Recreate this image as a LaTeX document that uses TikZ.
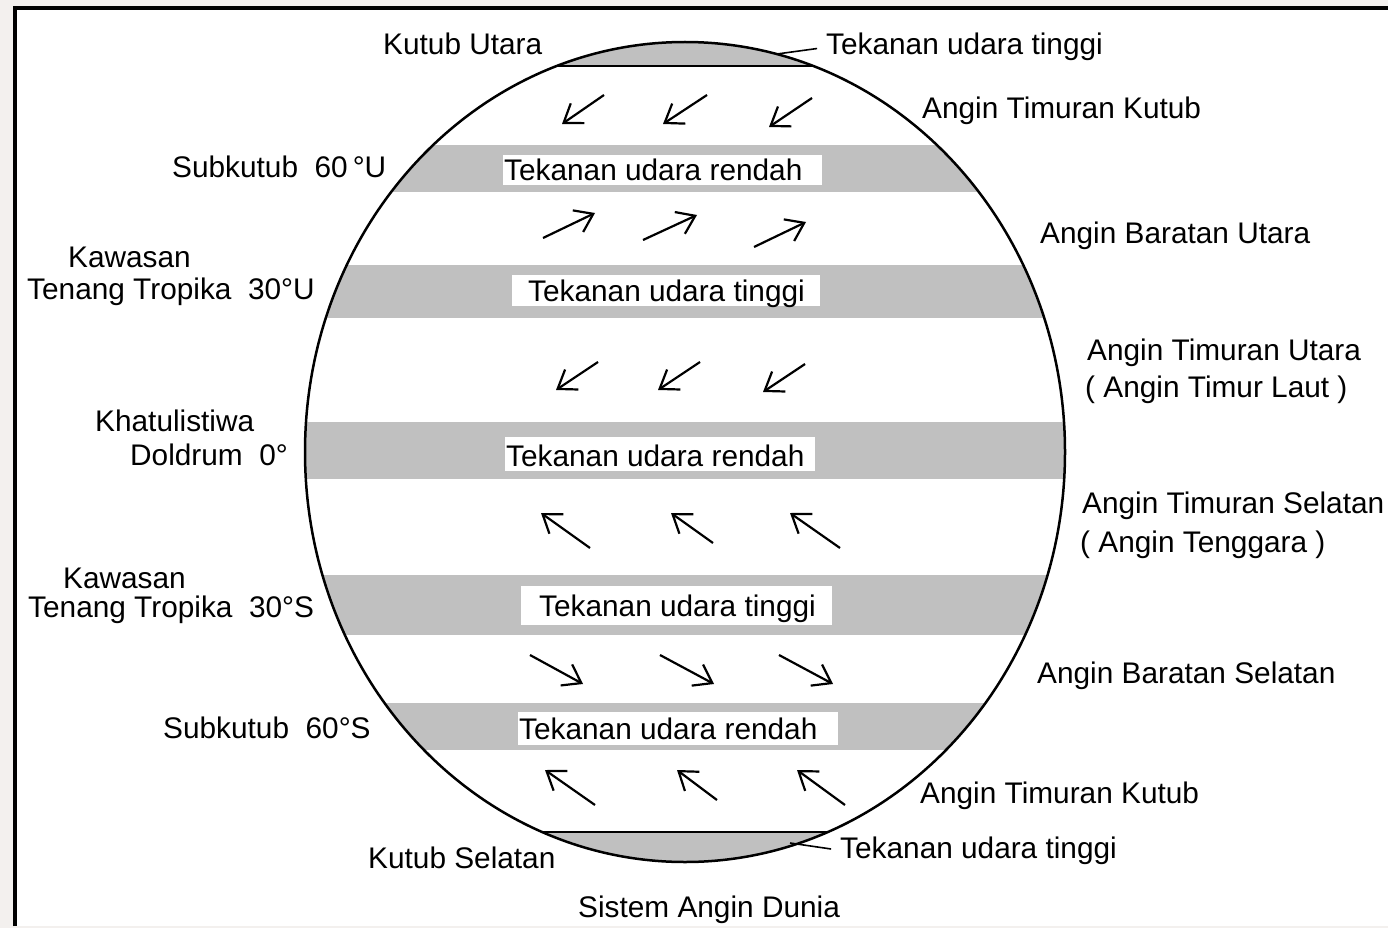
\documentclass[tikz,border=0pt]{standalone}
\usepackage{fontspec}
\setmainfont{Liberation Sans}
\usetikzlibrary{arrows.meta}
\definecolor{bandgray}{HTML}{C0C0C0}
\definecolor{outbg}{HTML}{F3F0EE}
\begin{document}
\begin{tikzpicture}[x=1pt,y=-1pt,
  lbl/.style={anchor=base west, inner sep=0pt, font=\fontsize{29.8}{32}\selectfont},
  wind/.style={-{Straight Barb[length=17pt,width=24pt]}, line width=2.2pt},
  globe/.style={line width=2.5pt},
  pointer/.style={line width=1.6pt, shorten >=9pt},
  bandbox/.style={fill=white}]
\useasboundingbox (0,0) rectangle (1388,928);
% background and frame
\fill[outbg] (0,0) rectangle (1388,928);
\fill[white] (15,8) rectangle (1388,926);
\draw[line width=4pt] (15,926) -- (15,8) -- (1388,8);
% bands clipped to globe
\begin{scope}
  \clip (685,452) ellipse [x radius=380pt, y radius=410pt];
  \fill[bandgray] (290,30) rectangle (1080,66);
  \fill[bandgray] (290,145) rectangle (1080,192);
  \fill[bandgray] (290,265) rectangle (1080,318);
  \fill[bandgray] (290,422) rectangle (1080,479);
  \fill[bandgray] (290,575) rectangle (1080,635);
  \fill[bandgray] (290,703) rectangle (1080,750);
  \fill[bandgray] (290,832) rectangle (1080,880);
  \draw[line width=2pt] (290,66) -- (1080,66);
  \draw[line width=2pt] (290,832) -- (1080,832);
\end{scope}
\draw[globe] (685,452) ellipse [x radius=380pt, y radius=410pt];
% white label boxes in bands
\fill[bandbox] (503,155) rectangle (822,185);
\fill[bandbox] (512,275) rectangle (820,306);
\fill[bandbox] (505,437) rectangle (815,471);
\fill[bandbox] (521,586) rectangle (832,625);
\fill[bandbox] (518,712) rectangle (838,745);
\node[lbl] (b1) at (504,181) {Tekanan udara rendah};
\node[lbl] (b2) at (528,301) {Tekanan udara tinggi};
\node[lbl] (b3) at (506,466) {Tekanan udara rendah};
\node[lbl] (b4) at (539,616) {Tekanan udara tinggi};
\node[lbl] (b5) at (519,739) {Tekanan udara rendah};
% wind arrows
\draw[wind] (604,95) -- (562,124);
\draw[wind] (707,95) -- (663,124);
\draw[wind] (812,98) -- (769,127);
\draw[wind] (543,238) -- (595,213);
\draw[wind] (643,240) -- (697,215);
\draw[wind] (754,247) -- (806,222);
\draw[wind] (598,362) -- (556,390);
\draw[wind] (700,362) -- (658,390);
\draw[wind] (805,364) -- (763,392);
\draw[wind] (590,548) -- (541,513);
\draw[wind] (713,543) -- (671,513);
\draw[wind] (840,548) -- (790,513);
\draw[wind] (530,655) -- (583,684);
\draw[wind] (660,655) -- (714,684);
\draw[wind] (779,655) -- (833,684);
\draw[wind] (595,805) -- (545,770);
\draw[wind] (717,800) -- (677,770);
\draw[wind] (845,805) -- (797,770);
% left labels
\node[lbl] (kutara) at (383,55) {Kutub Utara};
\node[lbl] (sub60u) at (172,178) {Subkutub\ \ 60\,°U};
\node[lbl] (kaw1) at (68,267) {Kawasan};
\node[lbl] (ten30u) at (27,299) {Tenang Tropika\ \ 30°U};
\node[lbl] (khat) at (95,431) {Khatulistiwa};
\node[lbl] (dold) at (130,465) {Doldrum\ \ 0°};
\node[lbl] (kaw2) at (63,588) {Kawasan};
\node[lbl] (ten30s) at (28,617) {Tenang Tropika\ \ 30°S};
\node[lbl] (sub60s) at (163,738) {Subkutub\ \ 60°S};
\node[lbl] (ksel) at (368,868) {Kutub Selatan};
% right labels
\node[lbl] (tut) at (826,55) {Tekanan udara tinggi};
\node[lbl] (atk1) at (922,119) {Angin Timuran Kutub};
\node[lbl] (abu) at (1040,243) {Angin Baratan Utara};
\node[lbl] (atu) at (1087,360) {Angin Timuran Utara};
\node[lbl] (atl) at (1085,397) {( Angin Timur Laut )};
\node[lbl] (ats) at (1082,513) {Angin Timuran Selatan};
\node[lbl] (atg) at (1080,552) {( Angin Tenggara )};
\node[lbl] (abs) at (1037,683) {Angin Baratan Selatan};
\node[lbl] (atk2) at (920,803) {Angin Timuran Kutub};
\node[lbl] (tus) at (840,858) {Tekanan udara tinggi};
\node[lbl] (title) at (578,917) {Sistem Angin Dunia};
% pointers
\coordinate (ptop) at (777,54);
\coordinate (pbot) at (790,843);
\draw[pointer] (ptop) -- (tut.west);
\draw[pointer] (pbot) -- (tus.west);
\end{tikzpicture}
\end{document}
